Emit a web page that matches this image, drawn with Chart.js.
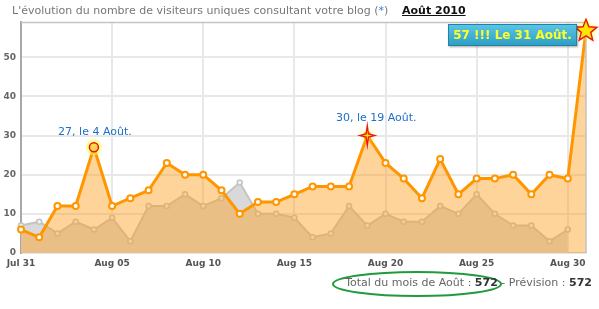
<!DOCTYPE html>
<html>
<head>
<meta charset="utf-8">
<script src="https://cdn.jsdelivr.net/npm/chart.js@4.4.1/dist/chart.umd.min.js"></script>
<style>
body{margin:0;background:#fff;}
#wrap{position:relative;width:599px;height:309px;overflow:hidden;}
#chart{position:absolute;left:0;top:0;}
#title{position:absolute;left:12px;top:4px;font:11px 'DejaVu Sans';color:#777;white-space:nowrap;}
#title .star{color:#2f7fd6;}
#month{position:absolute;left:402px;top:4px;font:bold 11px 'DejaVu Sans';color:#111;text-decoration:underline;}
#total{position:absolute;right:7px;top:276px;font:11px 'DejaVu Sans';color:#666;white-space:nowrap;}
#total b{color:#333;}
</style>
</head>
<body>
<div id="wrap">
<canvas id="chart" width="599" height="309"></canvas>
<div id="title">L'évolution du nombre de visiteurs uniques consultant votre blog (<span class="star">*</span>)</div>
<div id="month">Août 2010</div>
<div id="total">Total du mois de Août : <b>572</b> - Prévision : <b>572</b></div>
</div>
<script>
// jours affichés (31 juillet -> 31 août)
let days=['Jul 31','Aug 01','Aug 02','Aug 03','Aug 04','Aug 05','Aug 06','Aug 07','Aug 08','Aug 09','Aug 10',
'Aug 11','Aug 12','Aug 13','Aug 14','Aug 15','Aug 16','Aug 17','Aug 18','Aug 19','Aug 20',
'Aug 21','Aug 22','Aug 23','Aug 24','Aug 25','Aug 26','Aug 27','Aug 28','Aug 29','Aug 30','Aug 31'];
// visiteurs uniques du mois
let visiteurs=[6,4,12,12,27,12,14,16,23,20,20,16,10,13,13,15,17,17,17,30,23,19,14,24,15,19,19,20,15,20,19,57];
// période précédente (fond gris)
let precedent=[7,8,5,8,6,9,3,12,12,15,12,14,18,10,10,9,4,5,12,7,10,8,8,12,10,15,10,7,7,3,6,null];
let yTicks=[0,10,20,30,40,50];
let notes=[
  {idx:4, text:'27, le 4 Août.', dx:1, dy:-15, mark:'circle'},
  {idx:19, text:'30, le 19 Août.', dx:9, dy:-17, mark:'star4'},
  {idx:31, text:'57 !!! Le 31 Août.', mark:'star5'}
];

function star(ctx,x,y,n,rOut,rIn,sx){
  ctx.beginPath();
  for(let i=0;i<n*2;i++){
    let r=i%2==0?rOut:rIn;
    let a=-Math.PI/2+i*Math.PI/n;
    let px=x+Math.cos(a)*r*(sx||1), py=y+Math.sin(a)*r;
    if(i==0) ctx.moveTo(px,py); else ctx.lineTo(px,py);
  }
  ctx.closePath();
}

const notesPlugin={
  id:'notes',
  afterDatasetsDraw(chart){
    const ctx=chart.ctx;
    const area=chart.chartArea;
    const meta=chart.getDatasetMeta(0);
    // cadre haut / droite
    ctx.save();
    ctx.strokeStyle='#c4c4c4';
    ctx.lineWidth=1.5;
    ctx.beginPath();
    ctx.moveTo(area.left,area.top+0.5);ctx.lineTo(area.right,area.top+0.5);
    ctx.lineTo(area.right,area.bottom);
    ctx.stroke();
    ctx.restore();
    notes.forEach(n=>{
      const p=meta.data[n.idx];
      ctx.save();
      if(n.mark=='circle'){
        ctx.fillStyle='rgba(255,255,60,0.55)';
        ctx.beginPath();ctx.arc(p.x,p.y,8,0,Math.PI*2);ctx.fill();
        ctx.fillStyle='#ffd84a';ctx.strokeStyle='#e8141c';ctx.lineWidth=1.5;
        ctx.beginPath();ctx.arc(p.x,p.y,4.5,0,Math.PI*2);ctx.fill();ctx.stroke();
      } else if(n.mark=='star4'){
        ctx.shadowColor='rgba(255,240,0,0.9)';ctx.shadowBlur=6;
        star(ctx,p.x,p.y,4,10,2.2,0.75);
        ctx.fillStyle='#ffe400';ctx.fill();
        ctx.shadowBlur=0;
        ctx.strokeStyle='#e8141c';ctx.lineWidth=1.3;ctx.stroke();
      } else {
        ctx.shadowColor='rgba(255,240,0,0.9)';ctx.shadowBlur=5;
        star(ctx,p.x,p.y+1,5,11.5,5);
        ctx.fillStyle='#ffe600';ctx.fill();
        ctx.shadowBlur=0;
        ctx.strokeStyle='#e8141c';ctx.lineWidth=1.4;ctx.stroke();
      }
      ctx.restore();
      ctx.save();
      if(n.mark=='star5'){
        const bx=448,by=24,bw=129,bh=22;
        ctx.shadowColor='rgba(0,0,0,0.35)';ctx.shadowOffsetX=1;ctx.shadowOffsetY=1;ctx.shadowBlur=2;
        const g=ctx.createLinearGradient(0,by,0,by+bh);
        g.addColorStop(0,'#5cc6e6');g.addColorStop(1,'#2b9dc4');
        ctx.fillStyle=g;ctx.fillRect(bx,by,bw,bh);
        ctx.shadowColor='transparent';
        ctx.strokeStyle='#23809f';ctx.lineWidth=1;ctx.strokeRect(bx+0.5,by+0.5,bw-1,bh-1);
        ctx.fillStyle='#ffff2a';
        ctx.font="bold 12px 'DejaVu Sans'";
        ctx.textAlign='center';ctx.textBaseline='middle';
        ctx.fillText(n.text,bx+bw/2,by+bh/2+1);
      } else {
        ctx.fillStyle='#1f6fc8';
        ctx.font="11px 'DejaVu Sans'";
        ctx.textAlign='center';ctx.textBaseline='middle';
        ctx.fillText(n.text,p.x+n.dx,p.y+n.dy);
      }
      ctx.restore();
    });
    // ellipse verte autour du total
    ctx.save();
    ctx.strokeStyle='#1f9a3c';ctx.lineWidth=2;
    ctx.beginPath();ctx.ellipse(417,284,84,12,0,0,Math.PI*2);ctx.stroke();
    ctx.restore();
  }
};

new Chart(document.getElementById('chart'),{
  type:'line',
  data:{
    labels:days,
    datasets:[
      {label:'Août 2010',data:visiteurs,borderColor:'#ff9600',borderWidth:3,
       backgroundColor:'rgba(255,160,30,0.45)',fill:'origin',tension:0,
       pointRadius:3,pointBorderWidth:2,pointBackgroundColor:'#fff',pointBorderColor:'#ff9600'},
      {label:'Précédent',data:precedent,borderColor:'#c4c4c4',borderWidth:2,
       backgroundColor:'#d9d9d9',fill:'origin',tension:0,
       pointRadius:2.5,pointBorderWidth:1.5,pointBackgroundColor:'#f2f2f2',pointBorderColor:'#c4c4c4'}
    ]
  },
  options:{
    responsive:false,animation:false,
    layout:{padding:{top:22,right:13,bottom:36,left:0}},
    plugins:{legend:{display:false},tooltip:{enabled:false}},
    scales:{
      x:{
        offset:false,
        grid:{drawTicks:false,lineWidth:2,color:c=>(c.index%5==0&&c.index>0)?'#e8e8e8':'transparent'},
        border:{color:'#d0d0d0',width:1.5},
        ticks:{autoSkip:false,maxRotation:0,padding:5,color:'#555',font:{family:'DejaVu Sans',size:9,weight:'bold'},
          callback:(v,i)=>i%5==0?days[i]:''},
        afterFit:s=>{s.height=20;}
      },
      y:{
        min:0,max:59,
        afterBuildTicks:s=>{s.ticks=yTicks.map(v=>({value:v}));},
        grid:{drawTicks:false,lineWidth:2,color:c=>c.tick&&c.tick.value>0?'#e8e8e8':'transparent'},
        border:{color:'#a8a8a8',width:2},
        ticks:{padding:5,color:'#666',font:{family:'DejaVu Sans',size:9,weight:'bold'}},
        afterFit:s=>{s.width=21;}
      }
    }
  },
  plugins:[notesPlugin]
});
</script>
</body>
</html>
